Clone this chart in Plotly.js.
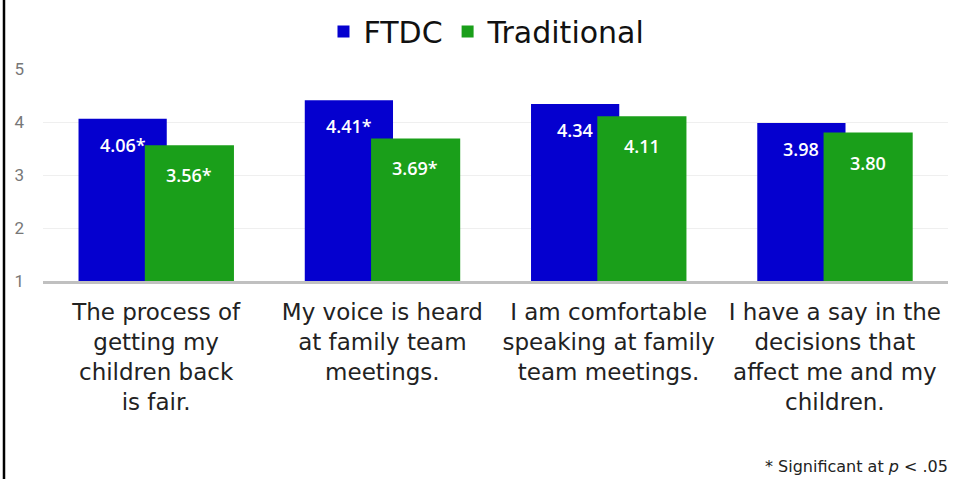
<!DOCTYPE html>
<html>
<head>
<meta charset="utf-8">
<script src="https://cdn.plot.ly/plotly-3.0.1.min.js"></script>
<style>html,body{margin:0;padding:0;background:#fff;}#chart{width:955px;height:479px;}</style>
</head>
<body>
<div id="chart"></div>
<script>
const categories = [
  "The process of<br>getting my<br>children back<br>is fair.",
  "My voice is heard<br>at family team<br>meetings.",
  "I am comfortable<br>speaking at family<br>team meetings.",
  "I have a say in the<br>decisions that<br>affect me and my<br>children."
];
const ftdcValues = [4.06, 4.41, 4.34, 3.98];
const traditionalValues = [3.56, 3.69, 4.11, 3.80];
const ftdcLabels = ["4.06*", "4.41*", "4.34", "3.98"];
const traditionalLabels = ["3.56*", "3.69*", "4.11", "3.80"];
const yTicks = [1, 2, 3, 4, 5];
const footnote = "* Significant at <i>p</i> < .05";

const BLUE = "#0500CF", GREEN = "#1A9F1A";
const catFont = "'DejaVu Sans', sans-serif";

const traces = [
  {type: "bar", name: "FTDC", x: categories, y: ftdcValues,
   offset: -0.343, width: 0.39, marker: {color: BLUE}, hoverinfo: "skip"},
  {type: "bar", name: "Traditional", x: categories, y: traditionalValues,
   offset: -0.05, width: 0.394, marker: {color: GREEN}, hoverinfo: "skip"}
];

const annotations = [];
categories.forEach((c, i) => {
  annotations.push({x: c, y: ftdcValues[i], xref: "x", yref: "y", text: ftdcLabels[i],
    showarrow: false, xshift: -33.5, yshift: -26, yanchor: "middle",
    font: {family: "'Open Sans', sans-serif", size: 18, color: "#fff", weight: 600}});
  annotations.push({x: c, y: traditionalValues[i], xref: "x", yref: "y", text: traditionalLabels[i],
    showarrow: false, xshift: 33, yshift: -30, yanchor: "middle",
    font: {family: "'Open Sans', sans-serif", size: 18, color: "#fff", weight: 600}});
});
annotations.push({x: 1.0022, y: -0.877, xref: "paper", yref: "paper", xanchor: "right", yanchor: "middle",
  text: footnote, showarrow: false, font: {family: catFont, size: 16, color: "#222"}});

const layout = {
  width: 955, height: 479,
  margin: {l: 43, r: 7, t: 69, b: 198, autoexpand: false},
  paper_bgcolor: "#fff", plot_bgcolor: "#fff",
  barmode: "overlay",
  showlegend: true,
  legend: {orientation: "h", x: 0.4906, xanchor: "center", y: 1.30, yanchor: "top",
    font: {family: catFont, size: 30, color: "#111"}, itemwidth: 30, traceorder: "normal"},
  xaxis: {type: "category", range: [-0.5, 3.5], showgrid: false, showline: true,
    linecolor: "#c0c0c0", linewidth: 2.5, ticks: "", ticklabelstandoff: 9,
    tickfont: {family: catFont, size: 23, color: "#222"}, fixedrange: true},
  yaxis: {range: [1, 5], tickvals: yTicks, showgrid: true, gridcolor: "#efefef", gridwidth: 1,
    zeroline: false, showline: false, ticks: "", ticklabelstandoff: 18,
    tickfont: {family: "Roboto, sans-serif", size: 17, color: "#777"}, fixedrange: true},
  annotations: annotations,
  shapes: [{type: "line", xref: "paper", yref: "paper", x0: -0.0431, x1: -0.0431, y0: -0.94, y1: 1.33,
    line: {color: "#000", width: 2.5}}]
};

Plotly.newPlot("chart", traces, layout, {displayModeBar: false, staticPlot: true});
</script>
</body>
</html>
